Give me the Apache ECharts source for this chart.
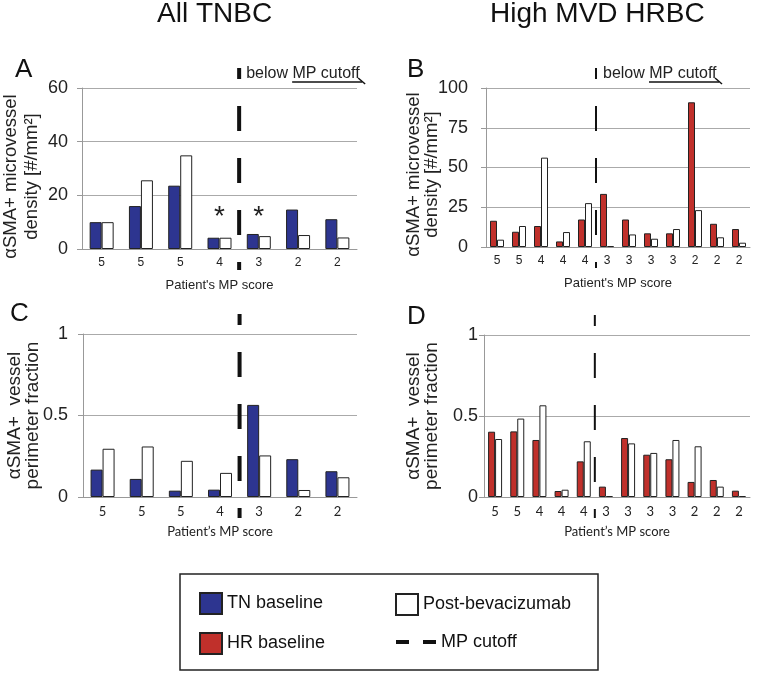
<!DOCTYPE html>
<html>
<head>
<meta charset="utf-8">
<title>aSMA+ microvessels</title>
<script src="https://cdn.jsdelivr.net/npm/echarts@6/dist/echarts.min.js"></script>
</head>
<body style="margin:0">
<div id="main" style="width:758px;height:674px;"></div>
<script>
// All TNBC (panels A, C)
var scoresTN = ['5', '5', '5', '4', '3', '2', '2'];
var densityTN = [10, 16, 23.6, 4.2, 5.6, 14.7, 11.1];
var densityTNPost = [10, 25.6, 34.9, 4.2, 4.8, 5.2, 4.3];
var fracTN = [0.168, 0.111, 0.039, 0.045, 0.565, 0.232, 0.158];
var fracTNPost = [0.296, 0.31, 0.222, 0.148, 0.255, 0.043, 0.121];
// High MVD HRBC (panels B, D)
var scoresHR = ['5', '5', '4', '4', '4', '3', '3', '3', '3', '2', '2', '2'];
var densityHR = [16.5, 9.6, 13.2, 3.5, 17.3, 33.4, 17.3, 8.6, 8.6, 91, 14.6, 11.3];
var densityHRPost = [4.6, 13.2, 56.2, 9.4, 27.6, 0.6, 7.9, 5.2, 11.3, 23.2, 6.1, 2.7];
var fracHR = [0.403, 0.405, 0.352, 0.037, 0.22, 0.064, 0.364, 0.261, 0.233, 0.093, 0.105, 0.039];
var fracHRPost = [0.358, 0.484, 0.566, 0.045, 0.344, 0.006, 0.331, 0.272, 0.352, 0.313, 0.064, 0.006];
// first bar below the MP cutoff
var cutTN = 4, cutHR = 5;
// significant pairs in panel A
var starIdx = [3, 4];
var starLevel = 14;

var blue = '#2d3590', red = '#c0302b';
var font = 'Liberation Sans';

var chart = echarts.init(document.getElementById('main'));

function xAxis(grid, data, nameText, fam, size) {
  return {
    type: 'category', gridIndex: grid, data: data,
    name: nameText, nameLocation: 'middle', nameGap: grid < 2 ? 30 : 28,
    nameTextStyle: {fontFamily: fam, fontSize: 13, color: '#222'},
    axisLine: {lineStyle: {color: '#999'}},
    axisTick: {length: 4, lineStyle: {color: '#999'}},
    axisLabel: {fontFamily: fam, fontSize: size, color: '#222', margin: 8}
  };
}
function yAxis(grid, max, step, nameText, o) {
  return {
    type: 'value', gridIndex: grid, min: 0, max: max, interval: step,
    name: nameText, nameLocation: 'middle', nameGap: o.gap, nameMoveOverlap: false,
    nameTextStyle: {fontFamily: font, fontSize: o.fs, color: '#222', lineHeight: o.lh, padding: [0, o.shift, 0, 0]},
    axisLine: {show: true, lineStyle: {color: '#999'}},
    axisTick: {show: true, length: 5, lineStyle: {color: '#999'}},
    axisLabel: {fontFamily: font, fontSize: 18, color: '#222', margin: o.margin},
    splitLine: {lineStyle: {color: '#aaa'}}
  };
}
function bars(name, grid, data, color, w) {
  return {
    type: 'bar', name: name, xAxisIndex: grid, yAxisIndex: grid, data: data,
    barWidth: w, barGap: '0%',
    itemStyle: {color: color, borderColor: '#222', borderWidth: 1}
  };
}

var densName = 'αSMA+ microvessel\ndensity [#/mm²]';
var fracName = 'αSMA+  vessel\nperimeter fraction';
var legendText = {fontFamily: font, fontSize: 18, color: '#111'};

chart.setOption({
  animation: false,
  title: [
    {text: 'All TNBC', left: 157, top: 0, padding: 0, textStyle: {fontFamily: font, fontSize: 28, fontWeight: 'normal', color: '#111'}},
    {text: 'High MVD HRBC', left: 490, top: 0, padding: 0, textStyle: {fontFamily: font, fontSize: 28, fontWeight: 'normal', color: '#111'}},
    {text: 'A', left: 15, top: 57, padding: 0, textStyle: {fontFamily: font, fontSize: 26, fontWeight: 'normal', color: '#111'}},
    {text: 'B', left: 407, top: 57, padding: 0, textStyle: {fontFamily: font, fontSize: 26, fontWeight: 'normal', color: '#111'}},
    {text: 'C', left: 10, top: 301, padding: 0, textStyle: {fontFamily: font, fontSize: 26, fontWeight: 'normal', color: '#111'}},
    {text: 'D', left: 407, top: 304, padding: 0, textStyle: {fontFamily: font, fontSize: 26, fontWeight: 'normal', color: '#111'}}
  ],
  grid: [
    {left: 82, top: 88, width: 275, height: 161, outerBoundsMode: 'none'},
    {left: 486, top: 88, width: 264, height: 159, outerBoundsMode: 'none'},
    {left: 83, top: 334, width: 274, height: 163, outerBoundsMode: 'none'},
    {left: 484, top: 335, width: 266, height: 162, outerBoundsMode: 'none'}
  ],
  xAxis: [
    xAxis(0, scoresTN, "Patient's MP score", font, 12),
    xAxis(1, scoresHR, "Patient's MP score", font, 12),
    xAxis(2, scoresTN, 'Patient’s MP score', 'Lato', 13),
    xAxis(3, scoresHR, 'Patient’s MP score', 'Lato', 13)
  ],
  yAxis: [
    yAxis(0, 60, 20, densName, {fs: 18.5, gap: 40, lh: 21, shift: 16, margin: 14}),
    yAxis(1, 100, 25, densName, {fs: 18.5, gap: 45, lh: 18, shift: 14, margin: 18}),
    yAxis(2, 1, 0.5, fracName, {fs: 19, gap: 41, lh: 18, shift: 0, margin: 15}),
    yAxis(3, 1, 0.5, fracName, {fs: 19, gap: 43, lh: 18, shift: 0, margin: 6})
  ],
  legend: [
    {left: 199, top: 592, padding: 0, orient: 'vertical', itemWidth: 22, itemHeight: 21, itemGap: 17, icon: 'rect', selectedMode: false,
     data: ['TN baseline', 'HR baseline'], textStyle: legendText},
    {left: 395, top: 593, padding: 0, itemWidth: 22, itemHeight: 21, icon: 'rect', selectedMode: false,
     data: ['Post-bevacizumab'], textStyle: legendText},
    {left: 396, top: 633, padding: 0, itemWidth: 40, itemHeight: 4, selectedMode: false,
     data: [{name: 'MP cutoff', icon: 'path://M0,0h13v4h-13zM27,0h13v4h-13z', itemStyle: {color: '#111', borderWidth: 0}}],
     textStyle: legendText}
  ],
  series: [
    bars('TN baseline', 0, densityTN, blue, 12),
    bars('Post-bevacizumab', 0, densityTNPost, '#fff', 12),
    bars('HR baseline', 1, densityHR, red, 7),
    bars('Post-bevacizumab', 1, densityHRPost, '#fff', 7),
    bars('TN baseline', 2, fracTN, blue, 12),
    bars('Post-bevacizumab', 2, fracTNPost, '#fff', 12),
    bars('HR baseline', 3, fracHR, red, 7),
    bars('Post-bevacizumab', 3, fracHRPost, '#fff', 7),
    {type: 'line', name: 'MP cutoff', xAxisIndex: 0, yAxisIndex: 0, data: [], symbol: 'none',
     itemStyle: {color: '#111'}, lineStyle: {color: '#111', width: 4, type: [13, 14]}}
  ]
});

// cutoff lines, notes and the legend frame, placed through the axes
var g = [];
function cutX(i, cut) {
  return (chart.convertToPixel({xAxisIndex: i}, cut - 1) + chart.convertToPixel({xAxisIndex: i}, cut)) / 2;
}
[[0, cutTN, 60, 4, true], [1, cutHR, 100, 2, true], [2, cutTN, 1, 4, false], [3, cutHR, 1, 2, false]].forEach(function (p) {
  var x = cutX(p[0], p[1]);
  var yTop = chart.convertToPixel({yAxisIndex: p[0]}, p[2]);
  var y0 = chart.convertToPixel({yAxisIndex: p[0]}, 0);
  g.push({type: 'line', shape: {x1: x, y1: yTop - 20, x2: x, y2: y0 + 21},
    style: {stroke: '#111', lineWidth: p[3], lineDash: [25, 27], lineDashOffset: 14}, z: 10});
  if (p[4]) {
    g.push({type: 'text', x: x + 7, y: yTop - 22,
      style: {text: 'below MP cutoff', fontFamily: font, fontSize: 16, fill: '#222'}, z: 10});
    var ya = yTop - 6;
    g.push({type: 'line', shape: {x1: x + 53, y1: ya, x2: x + 123, y2: ya}, style: {stroke: '#111', lineWidth: 1.5}, z: 10});
    g.push({type: 'line', shape: {x1: x + 119, y1: ya - 4, x2: x + 126, y2: ya + 2}, style: {stroke: '#111', lineWidth: 1.5}, z: 10});
  }
});
starIdx.forEach(function (i) {
  g.push({type: 'text', x: chart.convertToPixel({xAxisIndex: 0}, i), y: chart.convertToPixel({yAxisIndex: 0}, starLevel) + 6,
    style: {text: '*', fontFamily: font, fontSize: 28, fill: '#222', align: 'center', verticalAlign: 'middle'}, z: 10});
});
g.push({type: 'rect', shape: {x: 180, y: 574, width: 418, height: 96}, style: {fill: null, stroke: '#222', lineWidth: 1.5}});
chart.setOption({graphic: g});
</script>
</body>
</html>
